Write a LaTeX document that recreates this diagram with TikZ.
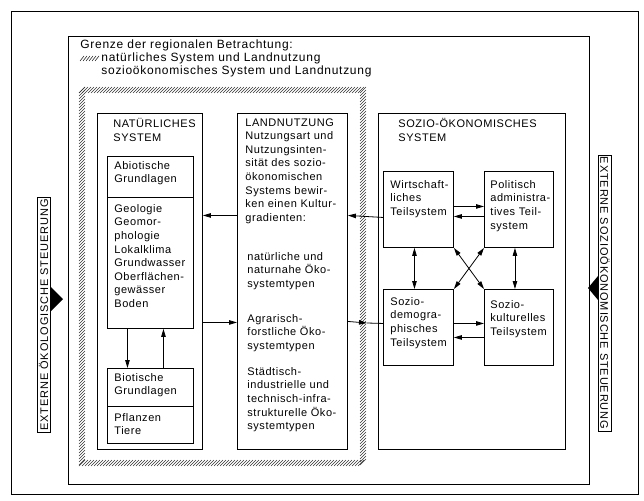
\documentclass[tikz,border=0pt]{standalone}
\usepackage{fontspec}
\setmainfont{Liberation Sans}
\newfontfamily\boxfont[LetterSpace=5]{Liberation Sans}
\newfontfamily\legfont[LetterSpace=6]{Liberation Sans}
\newfontfamily\extfont[LetterSpace=8]{Liberation Sans}
\usetikzlibrary{arrows.meta}
\begin{document}
\begin{tikzpicture}[x=1pt,y=-1pt,
  line width=0.8pt,
  box/.style={draw, line width=0.9pt, inner sep=0pt, anchor=north west},
  txt/.style={inner sep=0pt, anchor=north west, align=left, font=\boxfont\fontsize{11}{13.6}\selectfont},
  legtxt/.style={inner sep=0pt, anchor=west, font=\legfont\fontsize{12}{13.6}\selectfont},
  exttxt/.style={draw, line width=0.8pt, inner sep=1.8pt, font=\extfont\fontsize{11}{12}\selectfont},
  arr/.style={-{Triangle[length=8pt,width=4.5pt]}, line width=0.8pt},
  darr/.style={{Triangle[length=8pt,width=4.5pt]}-{Triangle[length=8pt,width=4.5pt]}, line width=0.8pt},
  hatch/.style={line width=0.6pt, black!80},
]
\useasboundingbox (0,0) rectangle (644,500);

% frames
\node[box, line width=1.1pt, minimum width=627, minimum height=483] (outer) at (11,11) {};
\node[box, minimum width=521, minimum height=448] (grenze) at (68,36) {};

% legend
\node[legtxt] (leg0) at (80,45) {Grenze der regionalen Betrachtung:};
\foreach \x in {80,83,...,95} \draw[hatch] (\x,61) -- (\x+4,56);
\node[legtxt] (leg1) at (101,58) {natürliches System und Landnutzung};
\node[legtxt] (leg2) at (101,71) {sozioökonomisches System und Landnutzung};

% hatched boundary
\foreach \x in {79,82,...,360} {
  \draw[hatch] (\x,93) -- (\x+6,87);
  \draw[hatch] (\x,466) -- (\x+6,460);
}
\foreach \y in {93,96,...,466} {
  \draw[hatch] (79,\y) -- (85,\y-6);
  \draw[hatch] (360,\y) -- (366,\y-6);
}

% natural system
\node[box, minimum width=105, minimum height=336] (nat) at (97,113) {};
\node[box, minimum width=86, minimum height=172] (abio) at (107,156) {};
\draw ([yshift=-41]abio.north west) -- ([yshift=-41]abio.north east);
\node[box, minimum width=86, minimum height=75] (bio) at (107,368) {};
\draw ([yshift=-38]bio.north west) -- ([yshift=-38]bio.north east);
\node[txt] (natT) at (113,118) {NATÜRLICHES\\SYSTEM};
\node[txt] (abioT) at (114,161) {Abiotische\\Grundlagen};
\node[txt] (abioC) at (114,204) {Geologie\\Geomor-\\phologie\\Lokalklima\\Grundwasser\\Oberflächen-\\gewässer\\Boden};
\node[txt] (bioT) at (114,373) {Biotische\\Grundlagen};
\node[txt] (bioC) at (114,413) {Pflanzen\\Tiere};

% land use
\node[box, minimum width=110, minimum height=336] (land) at (237,113) {};
\node[txt] (landT) at (245,118) {LANDNUTZUNG\\Nutzungsart und\\Nutzungsinten-\\sität des sozio-\\ökonomischen\\Systems bewir-\\ken einen Kultur-\\gradienten:};
\node[txt] (landA) at (247,252) {natürliche und\\naturnahe Öko-\\systemtypen};
\node[txt] (landB) at (247,314) {Agrarisch-\\forstliche Öko-\\systemtypen};
\node[txt] (landC) at (247,367) {Städtisch-\\industrielle und\\technisch-infra-\\strukturelle Öko-\\systemtypen};

% socio-economic system
\node[box, minimum width=187, minimum height=336] (sozio) at (378,113) {};
\node[txt] (soziT) at (398,118) {SOZIO-ÖKONOMISCHES\\SYSTEM};
\node[box, minimum width=70, minimum height=76] (wirt) at (383,171) {};
\node[box, minimum width=69, minimum height=76] (pol) at (484,171) {};
\node[box, minimum width=70, minimum height=76] (sdem) at (383,289) {};
\node[box, minimum width=69, minimum height=76] (skul) at (484,289) {};
\node[txt] (wirtT) at (390,180) {Wirtschaft-\\liches\\Teilsystem};
\node[txt] (polT) at (490,180) {Politisch\\administra-\\tives Teil-\\system};
\node[txt] (sdemT) at (390,297) {Sozio-\\demogra-\\phisches\\Teilsystem};
\node[txt] (skulT) at (490,300) {Sozio-\\kulturelles\\Teilsystem};

% external steering
\node[exttxt, rotate=90] (extL) at (43.5,315) {EXTERNE ÖKOLOGISCHE STEUERUNG};
\node[exttxt, rotate=-90] (extR) at (605,293) {EXTERNE SOZIOÖKONOMISCHE STEUERUNG};
\fill (51,287) -- (63,299) -- (51,311) -- cycle;
\fill (598,276) -- (588,288) -- (598,300) -- cycle;

% connectors
\draw[arr] ([yshift=66]land.west) -- ([yshift=66]nat.east);
\draw[arr] ([yshift=-41]nat.east) -- ([yshift=-41]land.west);
\draw[arr] ([yshift=-8]wirt.west) -- ([yshift=66]land.east);
\coordinate (hR) at (367,323);
\draw[arr] ([yshift=-40]land.east) -- (hR);
\draw (hR) -- ([yshift=4]sdem.west);

\draw[arr] ([xshift=-23]abio.south) -- ([xshift=-23]bio.north);
\draw[arr] ([xshift=13]bio.north) -- ([xshift=13]abio.south);

\draw[arr] ([yshift=3]wirt.east) -- ([yshift=3]pol.west);
\draw[arr] ([yshift=-7]pol.west) -- ([yshift=-7]wirt.east);
\draw[arr] ([yshift=4]sdem.east) -- ([yshift=4]skul.west);
\draw[arr] ([yshift=-10]skul.west) -- ([yshift=-10]sdem.east);
\draw[darr] ([xshift=-4]wirt.south) -- ([xshift=-4]sdem.north);
\draw[darr] ([xshift=-4]pol.south) -- ([xshift=-4]skul.north);
\draw[darr] (wirt.south east) -- (skul.north west);
\draw[darr] (pol.south west) -- (sdem.north east);
\end{tikzpicture}
\end{document}
